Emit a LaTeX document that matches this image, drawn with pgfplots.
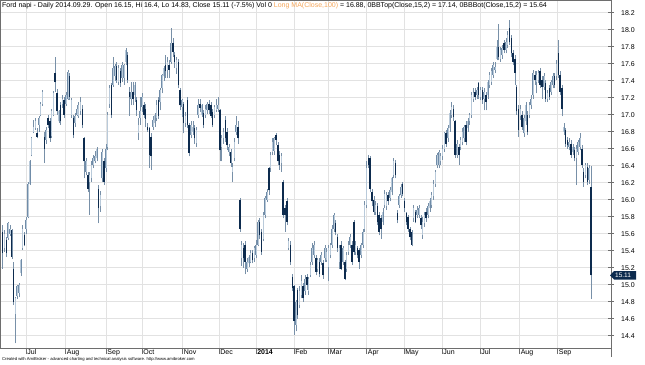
\documentclass[border=0pt]{standalone}
\usepackage{pgfplots}
\pgfplotsset{compat=1.18}
\usepackage{pgfplotstable}
\usepackage{fontspec}
\setmainfont{Liberation Sans}
\definecolor{downc}{RGB}{13,43,78}
\definecolor{upc}{RGB}{185,202,218}
\definecolor{upo}{RGB}{112,140,168}
\definecolor{wickc}{RGB}{120,144,168}
\definecolor{gridc}{RGB}{226,226,226}
\definecolor{axc}{RGB}{110,110,110}
\definecolor{maor}{RGB}{245,166,90}
\pgfplotstableread{
i o h l c
0 15.62 15.70 15.19 15.37
1 15.43 15.64 15.39 15.60
2 15.52 15.56 15.33 15.37
3 15.55 15.74 15.52 15.72
4 15.60 15.70 15.57 15.66
5 15.64 15.66 15.30 15.33
6 15.19 15.27 14.76 14.80
7 14.66 14.86 14.31 14.84
8 14.87 15.00 14.83 14.98
9 14.90 15.02 14.85 15.00
10 15.14 15.30 15.10 15.29
11 15.43 15.70 15.41 15.66
12 15.58 15.62 15.45 15.47
13 15.66 15.80 15.60 15.76
14 15.80 16.21 15.78 16.19
15 16.19 16.47 16.17 16.45
16 16.53 16.74 16.51 16.72
17 16.80 16.94 16.78 16.86
18 16.84 16.96 16.82 16.92
19 16.78 16.84 16.72 16.74
20 16.88 16.98 16.80 16.96
21 17.00 17.15 16.98 17.13
22 17.13 17.29 17.10 17.27
23 16.74 16.80 16.43 16.60
24 16.70 16.86 16.66 16.82
25 16.96 17.00 16.84 16.88
26 16.92 16.96 16.68 16.72
27 16.75 17.07 16.73 17.04
28 17.00 17.28 16.98 17.25
29 17.49 17.68 17.27 17.38
30 17.25 17.30 17.00 17.04
31 16.92 17.06 16.90 17.04
32 17.11 17.15 16.88 16.92
33 17.12 17.23 17.08 17.19
34 17.17 17.21 16.96 17.00
35 17.13 17.27 17.10 17.23
36 17.19 17.53 17.17 17.50
37 17.45 17.49 17.17 17.21
38 17.00 17.20 16.96 17.17
39 16.96 17.00 16.72 16.76
40 16.90 17.02 16.86 16.99
41 17.00 17.11 16.98 17.07
42 16.98 17.15 16.96 17.11
43 17.04 17.21 17.00 17.15
44 17.07 17.11 16.84 16.88
45 16.72 16.74 16.25 16.45
46 16.33 16.49 16.29 16.45
47 16.29 16.33 16.09 16.13
48 16.21 16.33 15.82 16.29
49 16.25 16.45 16.21 16.41
50 16.41 16.53 16.37 16.49
51 16.45 16.57 16.43 16.51
52 16.49 16.62 16.45 16.60
53 16.13 16.17 15.72 15.90
54 15.92 16.10 15.86 16.05
55 16.25 16.60 16.21 16.56
56 16.45 16.49 16.17 16.21
57 16.37 16.66 16.33 16.60
58 16.62 17.03 16.58 17.00
59 17.12 17.35 17.08 17.31
60 17.35 17.37 16.96 17.00
61 17.35 17.68 17.33 17.55
62 17.45 17.60 17.40 17.57
63 17.57 17.62 17.37 17.41
64 17.39 17.58 17.35 17.55
65 17.51 17.55 17.33 17.37
66 17.43 17.62 17.39 17.58
67 17.43 17.60 17.35 17.58
68 17.62 17.78 17.58 17.76
69 17.70 17.74 17.37 17.41
70 17.27 17.33 16.99 17.21
71 17.19 17.39 17.11 17.27
72 17.27 17.39 17.11 17.19
73 17.23 17.38 17.15 17.35
74 17.17 17.21 16.99 17.05
75 16.78 16.96 16.70 16.88
76 16.96 17.21 16.88 17.04
77 17.09 17.25 17.03 17.21
78 17.11 17.15 16.96 17.00
79 17.07 17.13 16.85 16.95
80 16.86 16.90 16.80 16.82
81 16.84 16.86 16.37 16.53
82 16.74 16.78 16.35 16.51
83 16.86 16.98 16.82 16.94
84 16.90 17.02 16.86 17.00
85 16.96 17.17 16.92 17.11
86 17.17 17.21 16.95 16.99
87 17.15 17.31 17.05 17.29
88 17.31 17.48 17.25 17.47
89 17.45 17.57 17.40 17.55
90 17.58 17.70 17.43 17.51
91 17.53 17.68 17.43 17.62
92 17.58 17.64 17.43 17.53
93 17.62 18.02 17.60 17.84
94 17.84 17.90 17.68 17.74
95 17.70 17.74 17.55 17.62
96 17.55 17.68 17.48 17.64
97 17.62 17.66 17.31 17.35
98 17.29 17.31 17.05 17.11
99 17.09 17.19 16.97 17.17
100 17.13 17.15 16.78 16.90
101 16.90 17.03 16.85 16.99
102 17.17 17.21 16.84 16.88
103 16.88 16.90 16.51 16.55
104 16.76 16.92 16.72 16.88
105 16.80 16.92 16.76 16.86
106 16.84 16.88 16.66 16.72
107 16.67 16.86 16.62 16.82
108 17.00 17.19 16.96 17.11
109 17.13 17.19 17.03 17.08
110 17.00 17.13 16.97 17.11
111 17.02 17.05 16.84 16.88
112 17.00 17.11 16.96 17.07
113 17.05 17.15 17.01 17.13
114 17.13 17.17 17.01 17.05
115 17.11 17.15 16.96 16.99
116 17.03 17.07 16.85 16.88
117 17.00 17.11 16.96 17.09
118 17.05 17.19 17.03 17.11
119 17.07 17.21 17.03 17.11
120 17.05 17.07 16.45 16.58
121 16.62 16.76 16.45 16.72
122 16.72 16.84 16.66 16.80
123 16.94 16.98 16.68 16.72
124 16.80 16.84 16.58 16.64
125 16.56 16.66 16.51 16.62
126 16.56 16.60 16.39 16.43
127 16.33 16.43 16.21 16.39
128 16.49 16.72 16.45 16.68
129 16.80 16.98 16.76 16.88
130 16.86 16.92 16.66 16.72
131 16.00 16.02 15.62 15.66
132 15.31 15.51 15.22 15.47
133 15.43 15.49 15.20 15.31
134 15.47 15.51 15.12 15.27
135 15.19 15.31 15.15 15.27
136 15.25 15.35 15.21 15.33
137 15.27 15.41 15.25 15.37
138 15.37 15.41 15.25 15.29
139 15.31 15.45 15.27 15.43
140 15.35 15.52 15.31 15.47
141 15.47 15.76 15.45 15.74
142 15.74 15.78 15.54 15.58
143 15.62 15.66 15.35 15.39
144 15.54 15.86 15.51 15.82
145 15.82 16.04 15.78 16.02
146 16.00 16.13 15.97 16.09
147 16.37 16.39 16.06 16.11
148 16.37 16.56 16.33 16.52
149 16.56 16.72 16.52 16.68
150 16.57 16.74 16.53 16.72
151 16.76 16.78 16.64 16.70
152 16.64 16.68 16.41 16.45
153 16.53 16.57 16.35 16.41
154 16.43 16.55 16.33 16.51
155 16.21 16.23 15.78 15.82
156 15.90 15.94 15.62 15.82
157 15.98 16.02 15.70 15.74
158 15.43 15.55 15.41 15.51
159 15.47 15.51 15.23 15.27
160 15.09 15.13 14.92 14.96
161 14.98 15.00 14.41 14.57
162 14.53 14.82 14.45 14.80
163 14.94 14.96 14.60 14.64
164 14.76 14.98 14.72 14.92
165 14.88 15.11 14.84 15.04
166 14.98 15.02 14.80 14.84
167 14.92 15.11 14.88 15.07
168 15.09 15.13 14.94 15.00
169 14.92 15.09 14.88 15.07
170 15.11 15.27 15.09 15.23
171 15.27 15.49 15.23 15.43
172 15.35 15.51 15.31 15.47
173 15.31 15.35 15.11 15.15
174 15.19 15.31 15.15 15.29
175 15.27 15.31 15.09 15.13
176 15.27 15.39 15.23 15.35
177 15.25 15.29 15.07 15.11
178 15.31 15.47 15.27 15.43
179 15.29 15.43 15.27 15.39
180 15.21 15.47 15.04 15.43
181 15.35 15.49 15.31 15.47
182 15.47 15.70 15.43 15.66
183 15.66 15.84 15.62 15.82
184 15.72 15.76 15.58 15.62
185 15.56 15.60 15.39 15.43
186 15.27 15.47 15.19 15.43
187 15.47 15.51 15.17 15.19
188 15.27 15.45 15.23 15.43
189 15.27 15.29 15.05 15.07
190 15.19 15.39 15.15 15.35
191 15.39 15.51 15.35 15.47
192 15.47 15.60 15.43 15.56
193 15.47 15.51 15.23 15.27
194 15.74 15.76 15.35 15.39
195 15.39 15.51 15.35 15.47
196 15.43 15.45 15.31 15.35
197 15.41 15.43 15.19 15.27
198 15.35 15.49 15.31 15.47
199 15.47 15.66 15.43 15.62
200 15.66 15.98 15.62 15.94
201 15.94 16.45 15.90 16.37
202 16.49 16.53 16.37 16.41
203 16.49 16.51 16.09 16.13
204 16.09 16.13 15.92 15.98
205 16.00 16.04 15.82 15.86
206 15.86 15.98 15.82 15.94
207 15.92 15.96 15.70 15.74
208 15.82 15.86 15.58 15.62
209 15.78 15.82 15.54 15.66
210 15.74 15.90 15.70 15.86
211 15.94 16.11 15.90 16.07
212 15.92 16.09 15.88 16.05
213 16.05 16.09 15.94 15.98
214 16.02 16.15 15.98 16.11
215 16.09 16.27 16.05 16.25
216 16.29 16.49 16.25 16.45
217 16.43 16.47 16.25 16.29
218 15.84 15.88 15.72 15.76
219 15.94 16.07 15.90 16.04
220 16.05 16.19 16.02 16.15
221 16.19 16.21 16.04 16.07
222 15.98 16.02 15.86 15.90
223 15.84 15.86 15.70 15.74
224 15.80 15.82 15.62 15.66
225 15.66 15.68 15.52 15.56
226 15.62 15.64 15.45 15.47
227 15.78 15.94 15.74 15.90
228 15.86 15.88 15.72 15.74
229 15.82 15.92 15.78 15.88
230 15.82 15.94 15.78 15.90
231 15.78 15.82 15.66 15.70
232 15.58 15.80 15.54 15.74
233 15.72 15.86 15.68 15.82
234 15.86 15.90 15.74 15.78
235 15.82 15.96 15.78 15.92
236 15.90 16.02 15.86 15.98
237 15.94 16.09 15.90 16.05
238 16.04 16.23 16.00 16.19
239 16.19 16.35 16.15 16.33
240 16.41 16.55 16.37 16.52
241 16.41 16.58 16.37 16.56
242 16.45 16.55 16.41 16.51
243 16.51 16.64 16.47 16.60
244 16.60 16.80 16.56 16.78
245 16.78 16.82 16.62 16.66
246 16.72 16.88 16.68 16.84
247 16.84 17.05 16.80 17.02
248 17.00 17.15 16.96 17.09
249 17.07 17.11 16.93 16.97
250 16.92 16.94 16.49 16.53
251 16.53 16.70 16.49 16.66
252 16.62 16.66 16.41 16.53
253 16.62 16.74 16.58 16.70
254 16.68 16.84 16.64 16.80
255 16.72 16.88 16.68 16.86
256 16.88 16.92 16.64 16.68
257 16.84 16.96 16.80 16.92
258 16.92 17.02 16.88 17.00
259 17.00 17.27 16.96 17.23
260 17.19 17.31 17.15 17.25
261 17.27 17.31 17.17 17.21
262 17.23 17.33 17.19 17.29
263 17.37 17.39 17.19 17.23
264 17.21 17.33 17.17 17.29
265 17.29 17.33 17.13 17.17
266 17.19 17.31 17.05 17.27
267 17.23 17.27 17.05 17.15
268 17.23 17.41 17.19 17.39
269 17.35 17.50 17.31 17.47
270 17.39 17.55 17.35 17.51
271 17.47 17.62 17.43 17.58
272 17.53 17.62 17.49 17.56
273 17.66 17.88 17.64 17.80
274 17.80 18.07 17.64 17.68
275 17.66 17.80 17.62 17.76
276 17.70 17.82 17.66 17.78
277 17.84 17.88 17.72 17.76
278 17.76 17.90 17.72 17.86
279 17.82 17.98 17.78 17.94
280 18.02 18.11 17.82 17.86
281 17.90 17.94 17.68 17.72
282 17.72 17.76 17.58 17.62
283 17.66 17.70 17.35 17.49
284 17.33 17.35 17.00 17.04
285 17.07 17.11 16.74 16.82
286 16.98 17.11 16.94 17.07
287 17.00 17.04 16.82 16.86
288 16.78 17.00 16.74 16.96
289 16.92 17.15 16.88 17.11
290 17.00 17.04 16.76 16.80
291 17.00 17.15 16.96 17.11
292 17.11 17.23 17.07 17.19
293 17.23 17.53 17.19 17.49
294 17.47 17.51 17.35 17.41
295 17.39 17.51 17.25 17.47
296 17.41 17.53 17.37 17.49
297 17.51 17.55 17.31 17.35
298 17.41 17.45 17.19 17.33
299 17.33 17.49 17.29 17.45
300 17.37 17.41 17.15 17.19
301 17.19 17.29 17.15 17.25
302 17.31 17.35 17.17 17.21
303 17.27 17.41 17.23 17.39
304 17.35 17.49 17.31 17.45
305 17.45 17.49 17.31 17.35
306 17.45 17.64 17.41 17.60
307 17.72 17.88 17.43 17.47
308 17.47 17.51 17.23 17.27
309 17.31 17.35 16.98 17.07
310 16.80 16.90 16.76 16.86
311 16.82 16.84 16.62 16.66
312 16.70 16.74 16.60 16.64
313 16.62 16.72 16.58 16.68
314 16.66 16.70 16.49 16.53
315 16.56 16.66 16.52 16.62
316 16.58 16.62 16.45 16.49
317 16.49 16.64 16.17 16.60
318 16.56 16.70 16.52 16.68
319 16.62 16.78 16.58 16.72
320 16.60 16.64 16.37 16.41
321 16.33 16.37 16.15 16.21
322 16.29 16.43 16.25 16.41
323 16.39 16.43 16.17 16.21
324 16.23 16.41 16.19 16.37
325 16.15 16.40 14.83 15.11
}\ohlc
\begin{document}
\begin{tikzpicture}
\useasboundingbox (0,0) rectangle (645pt,364pt);
\begin{axis}[
  at={(0pt,16pt)}, anchor=south west,
  scale only axis, width=611pt, height=348pt,
  xmin=-1.49, xmax=336.1, ymin=14.255, ymax=18.349,
  axis line style={axc, line width=0.8pt},
  xmajorgrids, ymajorgrids,
  grid style={gridc, line width=0.5pt},
  xtick pos=bottom, ytick pos=right,
  yticklabel pos=right,
  tick align=outside,
  tick style={axc, line width=0.5pt},
  major tick length=6pt,
  y tick style={xshift=-3pt},
  xtick={12.9,34.7,57.1,77,99.3,119.5,139.9,160.9,180,201,221.7,242.7,263.7,285.5,306.5},
  xticklabels={Jul,Aug,Sep,Oct,Nov,Dec,\textbf{2014},Feb,Mar,Apr,May,Jun,Jul,Aug,Sep},
  ytick={14.4,14.6,14.8,15.0,15.2,15.4,15.6,15.8,16.0,16.2,16.4,16.6,16.8,17.0,17.2,17.4,17.6,17.8,18.0,18.2},
  yticklabel style={anchor=west, inner sep=0pt, xshift=4pt, font=\fontsize{7}{8}\selectfont,
    /pgf/number format/fixed, /pgf/number format/fixed zerofill, /pgf/number format/precision=1,
    /pgf/number format/assume math mode=true},
  xticklabel style={anchor=north west, inner sep=0pt, xshift=1.2pt, yshift=4.5pt, font=\fontsize{7}{8}\selectfont},
]
\addplot[draw=none, mark=none, forget plot,
  error bars/.cd, y dir=plus, y explicit, error mark=none,
  error bar style={draw=wickc, line width=0.45pt}]
  table[x=i, y=l, y error plus expr={\thisrow{h}-\thisrow{l}}] {\ohlc};
\addplot[draw=none, mark=none, forget plot,
  restrict expr to domain={\thisrow{c}-\thisrow{o}}{0:100},
  error bars/.cd, y dir=plus, y explicit, error mark=none,
  error bar style={draw=upo, line width=1.5pt}]
  table[x=i, y=o, y error plus expr={\thisrow{c}-\thisrow{o}}] {\ohlc};
\addplot[draw=none, mark=none, forget plot,
  restrict expr to domain={\thisrow{c}-\thisrow{o}}{0:100},
  error bars/.cd, y dir=plus, y explicit, error mark=none,
  error bar style={draw=upc, line width=0.7pt}]
  table[x=i, y=o, y error plus expr={\thisrow{c}-\thisrow{o}}] {\ohlc};
\addplot[draw=none, mark=none, forget plot,
  restrict expr to domain={\thisrow{c}-\thisrow{o}}{-100:-0.001},
  error bars/.cd, y dir=plus, y explicit, error mark=none,
  error bar style={draw=downc, line width=1.5pt}]
  table[x=i, y=c, y error plus expr={\thisrow{o}-\thisrow{c}}] {\ohlc};
\node[anchor=west, inner sep=0pt, font=\fontsize{7}{8}\selectfont] at ([xshift=2pt,yshift=-5.5pt]rel axis cs:0,1)
  {Ford napi - Daily 2014.09.29. Open 16.15, Hi 16.4, Lo 14.83, Close 15.11 (-7.5\%) Vol 0 \textcolor{maor}{Long MA(Close,100)} = 16.88, 0BBTop(Close,15,2) = 17.14, 0BBBot(Close,15,2) = 15.64};
\coordinate (tag) at (axis cs:336.1,15.11);
\coordinate (br) at (rel axis cs:1,0);
\end{axis}
\draw[axc, line width=0.8pt] (br) -- ++(0,-9pt);
\fill[downc] ([xshift=-1pt]tag) -- ++(4pt,4.2pt) -- ++(22pt,0) -- ++(0,-8.4pt) -- ++(-22pt,0) -- cycle;
\node[anchor=west, inner sep=0pt, text=white, font=\fontsize{6.5}{7}\selectfont] at ([xshift=4pt]tag) {15.11};
\node[anchor=west, inner sep=0pt, font=\fontsize{4.2}{5}\selectfont] at (2pt,5pt)
  {Created with AmiBroker - advanced charting and technical analysis software. http://www.amibroker.com};
\end{tikzpicture}
\end{document}
